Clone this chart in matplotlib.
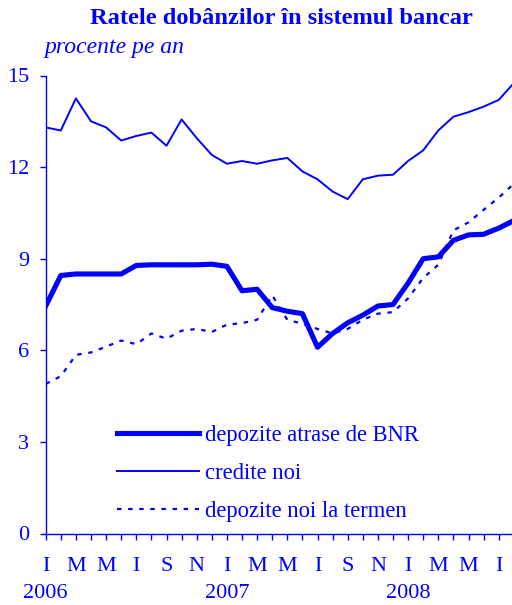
import numpy as np
import matplotlib
matplotlib.use("Agg")
import matplotlib.pyplot as plt

plt.rcParams['font.family'] = ['Liberation Serif', 'DejaVu Serif']

blue = "#0000ff"

# monthly data, Jan 2006 - Aug 2008
months = np.arange(32)
depozite_bnr = [7.45, 8.45, 8.5, 8.5, 8.5, 8.5, 8.78, 8.8, 8.8, 8.8, 8.8, 8.82,
                8.75, 7.95, 8.0, 7.4, 7.28, 7.2, 6.1, 6.55, 6.9, 7.15, 7.45, 7.5,
                8.2, 9.0, 9.06, 9.6, 9.78, 9.8, 10.0, 10.25]
credite_noi = [13.3, 13.2, 14.25, 13.5, 13.3, 12.87, 13.02, 13.13, 12.7, 13.56, 12.95, 12.4,
               12.11, 12.2, 12.11, 12.22, 12.3, 11.86, 11.6, 11.2, 10.95, 11.6, 11.72, 11.75,
               12.2, 12.55, 13.2, 13.65, 13.8, 13.98, 14.2, 14.75]
depozite_noi = [4.9, 5.15, 5.85, 5.93, 6.12, 6.32, 6.2, 6.55, 6.38, 6.64, 6.7, 6.6,
                6.84, 6.89, 7.0, 7.8, 7.0, 6.87, 6.7, 6.55, 6.7, 7.0, 7.2, 7.25,
                7.7, 8.37, 8.8, 9.93, 10.19, 10.6, 11.0, 11.45]

month_labels = ["I", "M", "M", "I", "S", "N"] * 3
years = ["2006", "2007", "2008"]

W, H = 512, 605
fig = plt.figure(figsize=(W / 100, H / 100), dpi=100)
ax = fig.add_axes([45.7 / W, 71.5 / H, (W - 45.7) / W, 458 / H])

ax.plot(months, depozite_bnr, color=blue, lw=3.7, solid_joinstyle='round',
        label="depozite atrase de BNR")
ax.plot(months, credite_noi, color=blue, lw=1.4, solid_joinstyle='round',
        label="credite noi")
ax.plot(months, depozite_noi, color=blue, lw=1.6, dashes=(2, 3),
        label="depozite noi la termen")

ax.set_xlim(0, (W - 45.7) / 15.1)
ax.set_ylim(0, 15)
ax.set_yticks([0, 3, 6, 9, 12, 15])
ax.set_xticks(months[:31])
ax.set_xticklabels([month_labels[i // 2] if i % 2 == 0 else "" for i in range(31)])

for s in ["top", "right"]:
    ax.spines[s].set_visible(False)
for s in ["left", "bottom"]:
    ax.spines[s].set_color(blue)
    ax.spines[s].set_linewidth(1.0)
ax.tick_params(colors=blue, labelcolor=blue, labelsize=16, length=4, width=1)
ax.tick_params(axis='y', pad=8)
ax.tick_params(axis='x', pad=13)

for i, y in enumerate(years):
    ax.text(i * 12, -0.131, y, transform=ax.get_xaxis_transform(), ha='center',
            va='center', color=blue, fontsize=16)

fig.text(281 / W, 1 - 19 / H, "Ratele dobânzilor în sistemul bancar", ha='center',
         va='center', color=blue, fontsize=17.6, fontweight='bold')
fig.text(44 / W, 1 - 47 / H, "procente pe an", ha='left', va='center', color=blue,
         fontsize=17, fontstyle='italic')

leg = ax.legend(loc='upper left', bbox_to_anchor=(117 / W, 1 - 425 / H),
                bbox_transform=fig.transFigure, frameon=False, fontsize=16.3,
                handlelength=3.6, handletextpad=0.3, labelspacing=0.75,
                borderpad=0, borderaxespad=0)
for t in leg.get_texts():
    t.set_color(blue)

fig.savefig("out.png", dpi=100)
